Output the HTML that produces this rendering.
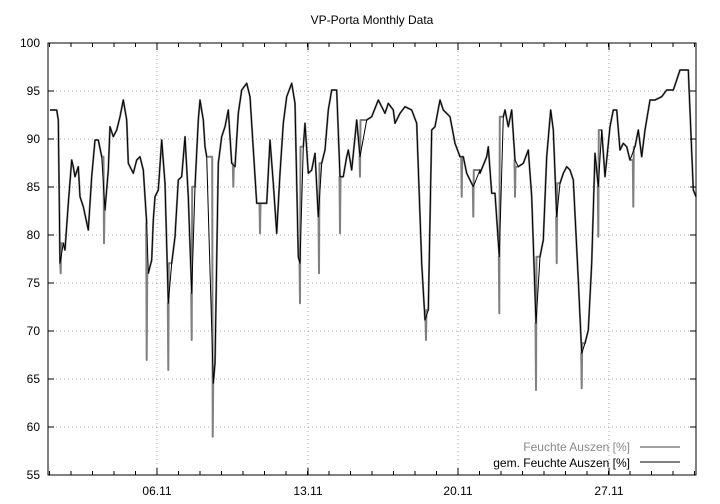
<!DOCTYPE html>
<html><head><style>body{margin:0;background:#fff}svg{display:block}text{font-family:"Liberation Sans",sans-serif;font-size:12px}</style></head>
<body>
<svg id="s" width="720" height="504" xmlns="http://www.w3.org/2000/svg">
<rect width="720" height="504" fill="#fff"/>
<text x="372" y="24" text-anchor="middle">VP-Porta Monthly Data</text>
<g id="grid" stroke="#aaa" stroke-dasharray="1,3" stroke-width="1"></g>
<g id="lbl"></g>
<polyline id="gray" fill="none" stroke="#808080" stroke-width="2" stroke-linejoin="round"/>
<polyline id="blk" fill="none" stroke="#000" stroke-width="1" stroke-linejoin="round"/>
<g id="ticks" stroke="#000" stroke-width="1"></g>
<rect x="48" y="43" width="648" height="432" fill="none" stroke="#000" stroke-width="1"/>
<text x="630" y="451" text-anchor="end" fill="#888">Feuchte Auszen [%]</text>
<line x1="640" y1="447" x2="680" y2="447" stroke="#808080" stroke-width="1.5"/>
<text x="630" y="467" text-anchor="end">gem. Feuchte Auszen [%]</text>
<line x1="640" y1="462" x2="680" y2="462" stroke="#000"/>
</svg>
<script>
var NS="http://www.w3.org/2000/svg";
function el(p,t,a,tx){var e=document.createElementNS(NS,t);for(var k in a)e.setAttribute(k,a[k]);if(tx!==undefined)e.textContent=tx;document.getElementById(p).appendChild(e);}
for(var v=55;v<=100;v+=5){var y=475-(v-55)*9.6;if(v>55&&v<100)el("grid","line",{x1:48,x2:696,y1:y,y2:y});
el("lbl","text",{x:40,y:y+4,"text-anchor":"end"},v);el("ticks","line",{x1:48,x2:54,y1:y,y2:y});el("ticks","line",{x1:690,x2:696,y1:y,y2:y});}
var xs=[157,308,458,609],nm=["06.11","13.11","20.11","27.11"];
xs.forEach(function(x,i){el("grid","line",{x1:x,x2:x,y1:43,y2:475});el("lbl","text",{x:x,y:495,"text-anchor":"middle"},nm[i]);
el("ticks","line",{x1:x,x2:x,y1:475,y2:468});el("ticks","line",{x1:x,x2:x,y1:43,y2:50});});
for(var x=157-21.5*5;x<696;x+=21.5){if(x>48){el("ticks","line",{x1:x,x2:x,y1:475,y2:471});el("ticks","line",{x1:x,x2:x,y1:43,y2:47});}}
var z1=[[30,240],[50,240],[55,270],[60,700],[70,640],[75,660],[85,520],[95,390],[100,410],[105,440],[115,410],[120,500],[130,530],[145,600],[155,440],[165,330],[175,330],[185,380],[195,540],[205,420],[210,290],[220,320],[230,300],[240,260],[250,210],[260,270],[265,400],[280,430],[290,390],[300,380],[310,420],[320,580],[325,730],[335,690],[340,570],[345,500],[355,480],[365,330],[375,460],[385,820],[395,700],[405,620],[415,450],[425,440],[435,320],[445,500],[455,790],[465,470],[475,270],[480,210],[490,270],[495,350],[500,380],[520,1060],[525,1000],[535,400],[545,320],[555,290],[565,240],[575,400],[585,410],[595,250],[605,180],[620,160],[630,200],[650,520],[670,520],[680,520]];
var z2=[[30,520],[50,520],[60,330],[70,460],[80,610],[90,430],[100,280],[110,200],[125,160],[135,220],[145,680],[150,700],[160,350],[165,280],[175,430],[185,420],[195,370],[205,560],[215,400],[225,360],[235,240],[245,180],[260,180],[270,440],[280,440],[290,380],[295,360],[305,420],[320,270],[330,380],[350,270],[365,260],[385,210],[395,230],[405,250],[415,220],[430,240],[435,280],[450,250],[465,230],[485,240],[500,280],[515,700],[525,870],[535,840],[545,300],[555,290],[570,210],[580,240],[600,260],[615,340],[630,380],[640,380],[650,430],[670,470],[690,420]];
var z3=[[0,430],[20,380],[25,350],[35,490],[45,490],[58,680],[70,260],[75,240],[85,290],[95,240],[105,390],[115,410],[130,400],[145,360],[155,500],[168,880],[180,680],[190,630],[200,380],[212,240],[220,300],[230,560],[240,460],[250,430],[260,410],[270,420],[280,450],[295,750],[305,970],[315,940],[325,900],[335,700],[345,370],[355,470],[365,300],[375,440],[390,290],[400,240],[410,240],[420,360],[430,340],[440,350],[450,390],[465,350],[475,300],[485,380],[495,300],[510,210],[525,210],[545,200],[560,180],[580,180],[590,150],[600,120],[625,120],[640,480],[648,500]];
function conv(a,ox){return a.map(function(p){return [ox+p[0]/3,30+p[1]/3];});}
var pts=conv(z1,40).concat(conv(z2,250)).concat(conv(z3,480));
pts=pts.filter(function(p){return p[0]>=48&&p[0]<=696;});
document.getElementById("blk").setAttribute("points",pts.map(function(p){return p[0].toFixed(1)+","+p[1].toFixed(1)}).join(" "));
var sp=[[40,62,730],[40,192,640],[40,320,990],[40,385,1020],[40,455,930],[40,518,1220],[40,580,470],[40,660,610],[260,120,820],[260,177,730],[260,240,610],[260,300,440],[260,498,930],[260,605,500],[260,640,560],[480,58,850],[480,168,1080],[480,230,700],[480,305,1075],[480,355,620],[480,460,530],[480,105,500]];
var g=pts.slice();sp.forEach(function(s){var x=s[0]+s[1]/3;var y=30+s[2]/3;
for(var i=0;i<g.length-1;i++){if(g[i][0]<=x&&g[i+1][0]>x){g.splice(i+1,0,[x-0.5,g[i][1]],[x,y],[x+0.5,g[i+1][1]]);break;}}});
document.getElementById("gray").setAttribute("points",g.map(function(p){return p[0].toFixed(1)+","+p[1].toFixed(1)}).join(" "));
</script>
</body></html>
